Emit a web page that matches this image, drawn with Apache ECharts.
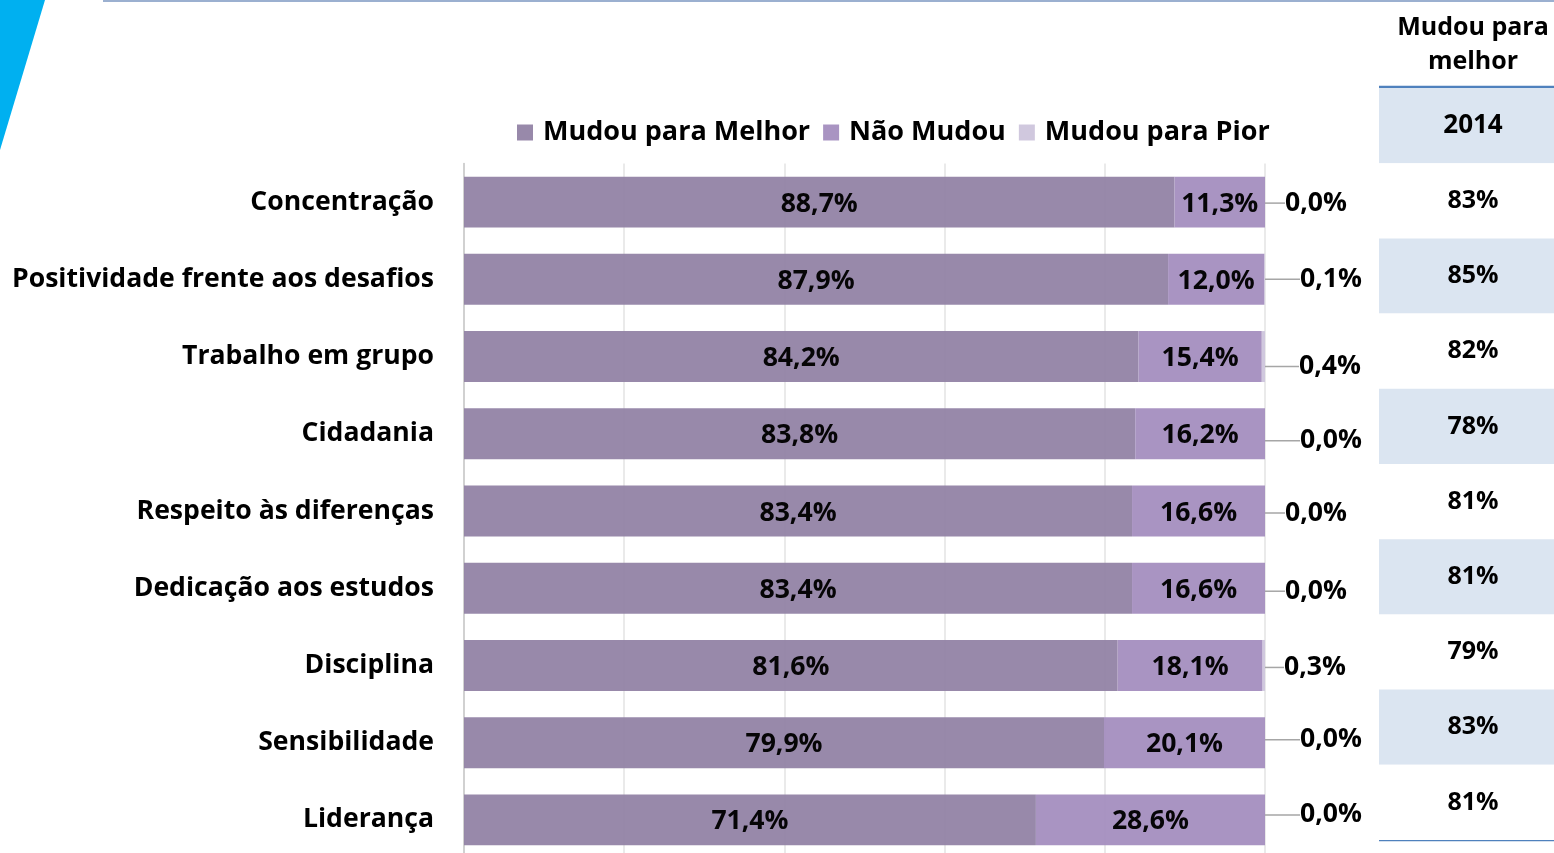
<!DOCTYPE html>
<html>
<head>
<meta charset="utf-8">
<title>Mudou para melhor</title>
<script src="https://cdn.jsdelivr.net/npm/echarts@6/dist/echarts.min.js"></script>
<style>
  html, body { margin: 0; padding: 0; background: #fff; }
  #main { width: 1554px; height: 853px; }
</style>
</head>
<body>
<div id="main"></div>
<script>
// categorias (de cima para baixo)
const categorias = [
  "Concentração",
  "Positividade frente aos desafios",
  "Trabalho em grupo",
  "Cidadania",
  "Respeito às diferenças",
  "Dedicação aos estudos",
  "Disciplina",
  "Sensibilidade",
  "Liderança"
];
const mudouMelhor = [88.7, 87.9, 84.2, 83.8, 83.4, 83.4, 81.6, 79.9, 71.4];
const naoMudou = [11.3, 12.0, 15.4, 16.2, 16.6, 16.6, 18.1, 20.1, 28.6];
const mudouPior = [0.0, 0.1, 0.4, 0.0, 0.0, 0.0, 0.3, 0.0, 0.0];
const anoTabela = "2014";
const melhor2014 = [83, 85, 82, 78, 81, 81, 79, 83, 81];
const xTicks = [0, 20, 40, 60, 80, 100];

// deslocamento dos rótulos de "Mudou para Pior"
const piorDx = [0, 15, 14, 15, 0, 0, -1, 15, 15];
const piorDy = [0, -1, 9, 6, 1, 2, 1, -4, -6];

const FONT = "Open Sans";
const fmt = v => v.toFixed(1).replace(".", ",") + "%";

const chart = echarts.init(document.getElementById("main"));

const tabelaData = [anoTabela].concat(melhor2014.map(v => v + "%"));

const option = {
  animation: false,
  textStyle: { fontFamily: FONT },
  color: ["#9484a7", "#a690bf", "#d0c8de"],
  title: {
    text: "Mudou para\nmelhor",
    left: 1468,
    top: 6,
    textAlign: "center",
    textStyle: { fontSize: 25, fontWeight: "bold", color: "#000", lineHeight: 34, fontFamily: FONT }
  },
  legend: {
    left: 512,
    top: 114,
    itemWidth: 16,
    itemHeight: 16,
    itemGap: 13,
    icon: "rect",
    textStyle: { fontSize: 27, fontWeight: "bold", color: "#000", fontFamily: FONT, padding: [0, 0, 0, 5] },
    data: ["Mudou para Melhor", "Não Mudou", "Mudou para Pior"]
  },
  grid: [
    { left: 464, right: 289, top: 163.5, height: 695, outerBoundsMode: "none" },
    { left: 1379, right: -13, top: 88, height: 752, outerBoundsMode: "none" }
  ],
  xAxis: [
    {
      gridIndex: 0, type: "value", min: xTicks[0], max: xTicks[xTicks.length - 1], interval: 20,
      axisLabel: { show: false }, axisLine: { show: false }, axisTick: { show: false },
      splitLine: { show: true, lineStyle: { color: "#e3e3e3", width: 1.5 } }
    },
    {
      gridIndex: 1, type: "value", min: 0, max: 1, show: false
    }
  ],
  yAxis: [
    {
      gridIndex: 0, type: "category", inverse: true, data: categorias,
      axisTick: { show: false },
      axisLine: { show: true, lineStyle: { color: "#c8c8c8", width: 1.5 } },
      axisLabel: { margin: 30, fontSize: 26.6, fontWeight: "bold", color: "#000", fontFamily: FONT }
    },
    {
      gridIndex: 1, type: "category", inverse: true, data: tabelaData, show: false
    }
  ],
  series: [
    {
      name: "Mudou para Melhor", type: "bar", stack: "total", data: mudouMelhor,
      barCategoryGap: "34%",
      itemStyle: { opacity: 0.96 },
      label: { show: true, position: "inside", offset: [0, 2], formatter: p => fmt(p.value), fontSize: 26.6, fontWeight: "bold", color: "#000", fontFamily: FONT }
    },
    {
      name: "Não Mudou", type: "bar", stack: "total", data: naoMudou,
      itemStyle: { opacity: 0.96 },
      label: { show: true, position: "inside", offset: [0, 2], formatter: p => fmt(p.value), fontSize: 26.6, fontWeight: "bold", color: "#000", fontFamily: FONT }
    },
    {
      name: "Mudou para Pior", type: "bar", stack: "total", data: mudouPior,
      label: { show: true, position: "right", distance: 20, formatter: p => fmt(p.value), fontSize: 26.6, fontWeight: "bold", color: "#000", fontFamily: FONT },
      labelLayout: p => ({ dx: piorDx[p.dataIndex], dy: piorDy[p.dataIndex] + 1 }),
      labelLine: { show: true, lineStyle: { color: "#a6a6a6", width: 1.5 } }
    },
    {
      // tabela 2014
      name: "tabela", type: "bar", xAxisIndex: 1, yAxisIndex: 1,
      barCategoryGap: "0%", silent: true,
      data: tabelaData.map((t, i) => ({
        value: 1,
        itemStyle: { color: i % 2 === 0 ? "#dbe5f1" : "#ffffff" },
        label: { fontSize: i === 0 ? 26 : 25 }
      })),
      label: {
        show: true, position: "inside", formatter: p => tabelaData[p.dataIndex],
        fontWeight: "bold", color: "#000", fontFamily: FONT
      }
    }
  ],
  graphic: [
    { type: "polygon", shape: { points: [[0, 0], [45, 0], [27, 60], [12, 110], [0, 150]] }, style: { fill: "#00b0f0" } },
    { type: "line", shape: { x1: 103, y1: 1, x2: 1554, y2: 1 }, style: { stroke: "#9bb0d0", lineWidth: 2 } },
    { type: "line", shape: { x1: 1379, y1: 87, x2: 1554, y2: 87 }, style: { stroke: "#4f81bd", lineWidth: 2.5 } },
    { type: "line", shape: { x1: 1379, y1: 840, x2: 1554, y2: 840 }, style: { stroke: "#4f81bd", lineWidth: 2.5 } }
  ]
};

chart.setOption(option);
</script>
</body>
</html>
